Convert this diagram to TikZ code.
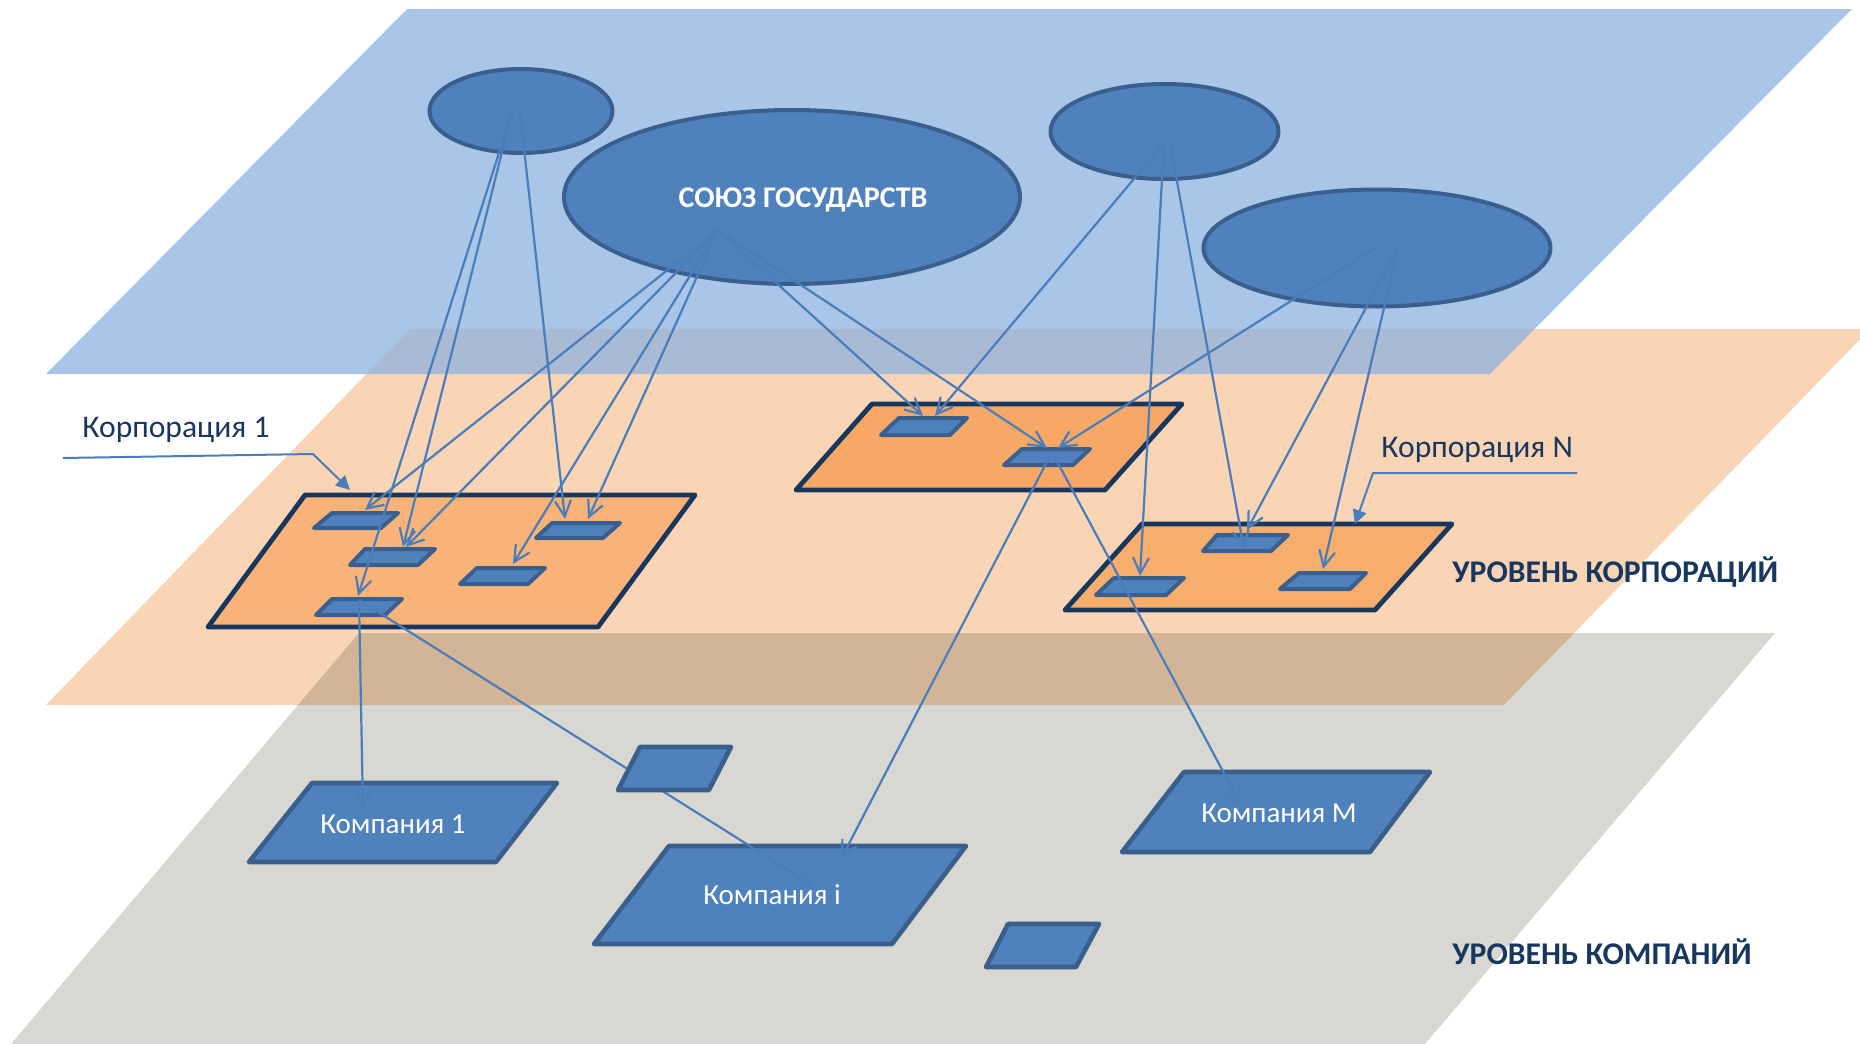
\documentclass[tikz,border=0pt]{standalone}
\usepackage{fontspec}
\setmainfont{Carlito}
\usetikzlibrary{arrows.meta,shapes.geometric}
\definecolor{bplane}{HTML}{A9C5E8}
\definecolor{oplane}{HTML}{FAD5B5}
\definecolor{gplane}{HTML}{D8D7D2}
\definecolor{boover}{HTML}{A9BAD5}
\definecolor{ogover}{HTML}{D2B496}
\definecolor{ellfill}{HTML}{4F81BD}
\definecolor{ellline}{HTML}{3A5F8D}
\definecolor{lineblue}{HTML}{4A7EBB}
\definecolor{navy}{HTML}{17375E}
\definecolor{corpA}{HTML}{F9B378}
\definecolor{corpB}{HTML}{F7A866}
\definecolor{corpC}{HTML}{F7AE6C}
\newcommand\mkpara[8]{%
  \draw[#1] (#3,#5) -- (#4,#5) -- (#7,#8) -- (#6,#8) -- cycle;
  \coordinate (#2) at ({(#3+#4+#6+#7)/4},{(#5+#8)/2});}
\begin{document}
\begin{tikzpicture}[x=0.5pt,y=-0.5pt,line join=round,
  ell/.style={ellipse,draw=ellline,fill=ellfill,line width=2pt,inner sep=0pt},
  corp/.style={draw=navy,line width=2.4pt},
  inner/.style={draw=ellline,fill=ellfill,line width=2pt},
  comp/.style={draw=ellline,fill=ellfill,line width=2.3pt},
  conn/.style={draw=lineblue,line width=1.1pt,-{Straight Barb[length=8pt,width=8pt]}},
  leader/.style={draw=lineblue,line width=1pt,-{Triangle[length=7pt,width=7pt]}},
  lbl/.style={text=navy,font=\fontsize{15.8}{18}\selectfont,inner sep=0pt,anchor=base west},
  lvl/.style={text=navy,font=\bfseries\fontsize{15.8}{18}\selectfont,inner sep=0pt,anchor=base west},
  comptext/.style={text=white,font=\fontsize{14.5}{17}\selectfont,inner sep=0pt,anchor=base},
  union/.style={text=white,font=\bfseries\fontsize{15}{18}\selectfont,inner sep=0pt,anchor=base}]
\useasboundingbox (0,0) rectangle (1860,1044);
\clip (0,0) rectangle (1860,1044);
\fill[white] (0,0) rectangle (1860,1044);
% planes
\fill[bplane] (407,9) -- (1852,9) -- (1490,374) -- (46,374) -- cycle;
\fill[oplane] (410,329) -- (1870,329) -- (1504,705) -- (46,705) -- cycle;
\begin{scope}
  \clip (407,9) -- (1852,9) -- (1490,374) -- (46,374) -- cycle;
  \fill[boover] (410,329) -- (1870,329) -- (1504,705) -- (46,705) -- cycle;
\end{scope}
\fill[gplane] (359,633) -- (1775,633) -- (1425,1044) -- (11,1044) -- cycle;
\begin{scope}
  \clip (410,329) -- (1870,329) -- (1504,705) -- (46,705) -- cycle;
  \fill[ogover] (359,633) -- (1775,633) -- (1425,1044) -- (11,1044) -- cycle;
\end{scope}
% ellipses
\node[ell,minimum width=91.5pt,minimum height=42pt] (S) at (521,111) {};
\node[ell,minimum width=228pt,minimum height=87pt] (U) at (792,197) {};
\node[ell,minimum width=114pt,minimum height=47.5pt] (T) at (1164.5,131.5) {};
\node[ell,minimum width=173.5pt,minimum height=58.5pt] (R) at (1377,248) {};
\node[union] (Ut) at (803,207) {СОЮЗ ГОСУДАРСТВ};
% corporations
\mkpara{corp,fill=corpA}{C1}{305}{695}{495}{208}{598}{627}
\mkpara{corp,fill=corpB}{C2}{872}{1182}{404}{796}{1105}{490}
\mkpara{corp,fill=corpC}{CN}{1142}{1452}{524}{1065}{1375}{610}
% inner boxes
\mkpara{inner}{ba}{332}{398}{513}{314}{381}{528}
\mkpara{inner}{bb}{365}{435}{549}{350}{418}{565}
\mkpara{inner}{bc}{552}{620}{523}{536}{603}{538}
\mkpara{inner}{bd}{477}{545}{568}{460}{528}{584}
\mkpara{inner}{be}{332}{402}{599}{316}{385}{615}
\mkpara{inner}{bf}{899}{967}{418}{881}{950}{435}
\mkpara{inner}{bg}{1022}{1090}{449}{1004}{1073}{465}
\mkpara{inner}{bh}{1217}{1288}{535}{1203}{1271}{551}
\mkpara{inner}{bi}{1299}{1366}{573}{1280}{1350}{589}
\mkpara{inner}{bj}{1114}{1184}{578}{1096}{1166}{595}
% companies
\mkpara{comp}{K1}{312}{557}{783}{249}{496}{862}
\mkpara{comp}{Ki}{669}{966}{846}{594}{892}{944}
\mkpara{comp}{KM}{1184}{1430}{772}{1122}{1370}{852}
\mkpara{comp}{Kl}{1008}{1099}{924}{986}{1076}{967}
% connector end points
\coordinate (S1) at (512,112);
\coordinate (S2) at (520,112);
\coordinate (U0) at (718,230);
\coordinate (T0) at (1164,143);
\coordinate (T1) at (1170,143);
\coordinate (R0) at (1375,248);
\coordinate (R1) at (1398,248);
\coordinate (ta) at (365,510);
\coordinate (tb1) at (403,547);
\coordinate (tb2) at (406,547);
\coordinate (tc1) at (565,519);
\coordinate (tc2) at (588,519);
\coordinate (td) at (513,564);
\coordinate (te) at (358,596);
\coordinate (tf1) at (923,416);
\coordinate (tf2) at (935,416);
\coordinate (tg1) at (1047,448);
\coordinate (tg2) at (1058,448);
\coordinate (th1) at (1244,549);
\coordinate (th2) at (1247,530);
\coordinate (ti) at (1323,569);
\coordinate (tj) at (1140,576);
\coordinate (G0) at (1052,452);
\coordinate (E0) at (359,600);
\coordinate (tK1) at (363,809);
\coordinate (tKi1) at (841,859);
\coordinate (tKi2) at (815,887);
\coordinate (tKM) at (1241,805);
% connectors
\draw[conn] (S1) -- (te);
\draw[conn] (S1) -- (tb1);
\draw[conn] (S2) -- (tc1);
\draw[conn] (U0) -- (ta);
\draw[conn] (U0) -- (tb2);
\draw[conn] (U0) -- (td);
\draw[conn] (U0) -- (tc2);
\draw[conn] (U0) -- (tf1);
\draw[conn] (U0) -- (tg1);
\draw[conn] (T0) -- (tf2);
\draw[conn] (T0) -- (tj);
\draw[conn] (T1) -- (th1);
\draw[conn] (R0) -- (tg2);
\draw[conn] (R1) -- (th2);
\draw[conn] (R1) -- (ti);
\draw[conn] (G0) -- (tKi1);
\draw[conn] (G0) -- (tKM);
\draw[conn] (E0) -- (tK1);
\draw[conn] (E0) -- (tKi2);
% small company box over the line
\mkpara{comp}{Kk}{640}{731}{747}{618}{709}{790}
% texts
\node[comptext] (K1t) at (393,833) {Компания 1};
\node[comptext] (Kit) at (772,904) {Компания i};
\node[comptext] (KMt) at (1279,822) {Компания M};
\node[lbl] (L1) at (82,437) {Корпорация 1};
\node[lbl] (LN) at (1381,457) {Корпорация N};
\node[lvl] (V1) at (1452,582) {УРОВЕНЬ КОРПОРАЦИЙ};
\node[lvl] (V2) at (1452,964) {УРОВЕНЬ КОМПАНИЙ};
% leaders
\coordinate (L1a) at (63,458);
\coordinate (L1b) at (313,454);
\coordinate (C1tip) at (350,490);
\coordinate (LNa) at (1577,473);
\coordinate (LNb) at (1373,473);
\coordinate (CNtip) at (1355,524);
\draw[leader] (L1a) -- (L1b) -- (C1tip);
\draw[leader] (LNa) -- (LNb) -- (CNtip);
\end{tikzpicture}
\end{document}
